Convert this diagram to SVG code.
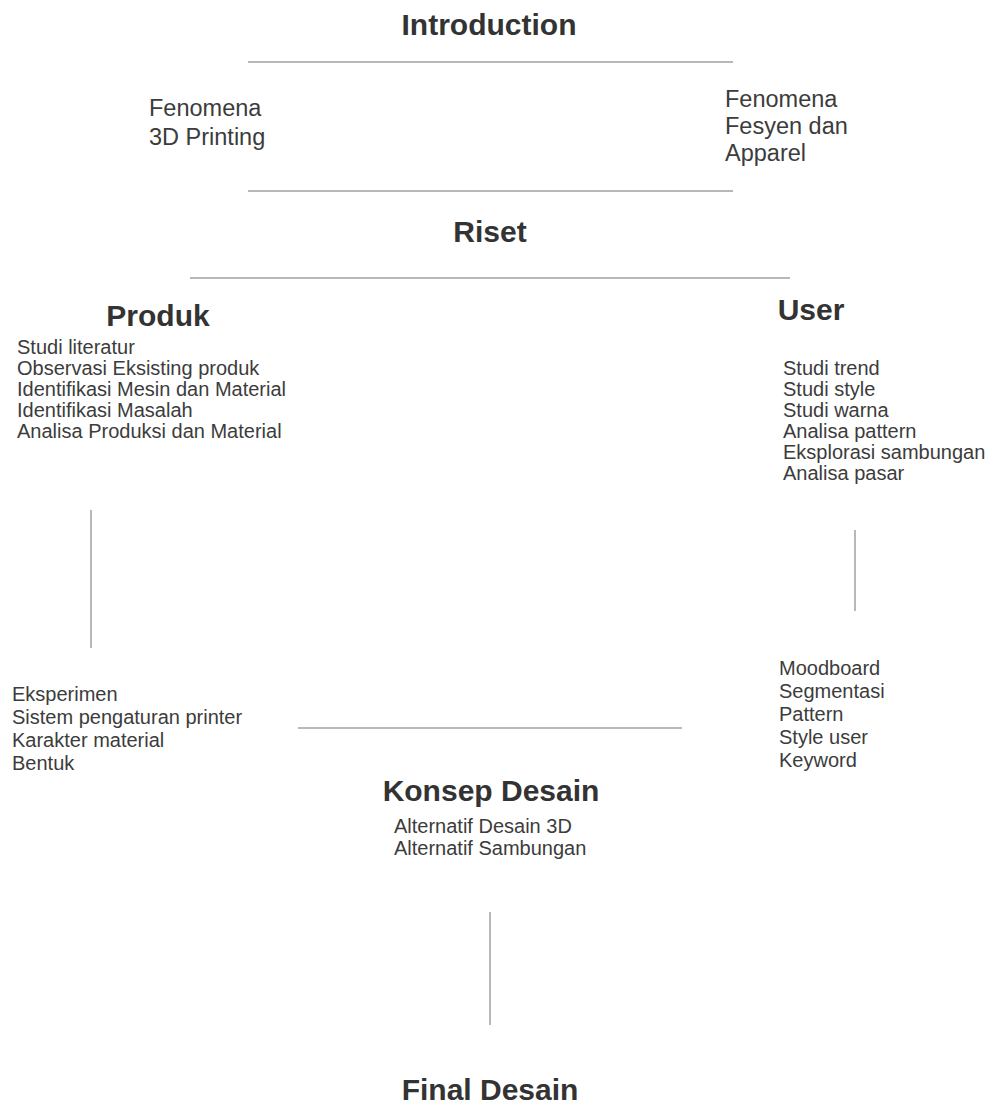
<svg xmlns="http://www.w3.org/2000/svg" width="996" height="1108" viewBox="0 0 996 1108">
<style>
.h{font-family:"Liberation Sans",Arial,sans-serif;font-weight:bold;font-size:30px;fill:#333;text-anchor:middle}
.t{font-family:"Liberation Sans",Arial,sans-serif;font-size:20px;fill:#3c3c3c}
.f{font-family:"Liberation Sans",Arial,sans-serif;font-size:23.5px;fill:#3c3c3c}
.c line{stroke:#a0a0a0;stroke-width:1.5}
</style>
<rect width="996" height="1108" fill="#fff"/>
<g class="c" id="connectors">
<line x1="248" y1="62" x2="733" y2="62"/>
<line x1="248" y1="191" x2="733" y2="191"/>
<line x1="190" y1="278" x2="790" y2="278"/>
<line x1="91" y1="510" x2="91" y2="648"/>
<line x1="855" y1="530" x2="855" y2="611"/>
<line x1="298" y1="728" x2="682" y2="728"/>
<line x1="490" y1="912" x2="490" y2="1025"/>
</g>
<g id="introduction"><text class="h" x="489" y="35">Introduction</text></g>
<g id="fenomena-3d">
<text class="f" x="149" y="116">Fenomena</text>
<text class="f" x="149" y="145">3D Printing</text>
</g>
<g id="fenomena-fesyen">
<text class="f" x="725" y="107">Fenomena</text>
<text class="f" x="725" y="134">Fesyen dan</text>
<text class="f" x="725" y="161">Apparel</text>
</g>
<g id="riset"><text class="h" x="490" y="242">Riset</text></g>
<g id="produk"><text class="h" x="158" y="326">Produk</text></g>
<g id="user"><text class="h" x="811" y="320">User</text></g>
<g id="produk-list">
<text class="t" x="17" y="354">Studi literatur</text>
<text class="t" x="17" y="375">Observasi Eksisting produk</text>
<text class="t" x="17" y="396">Identifikasi Mesin dan Material</text>
<text class="t" x="17" y="417">Identifikasi Masalah</text>
<text class="t" x="17" y="438">Analisa Produksi dan Material</text>
</g>
<g id="user-list">
<text class="t" x="783" y="375">Studi trend</text>
<text class="t" x="783" y="396">Studi style</text>
<text class="t" x="783" y="417">Studi warna</text>
<text class="t" x="783" y="438">Analisa pattern</text>
<text class="t" x="783" y="459">Eksplorasi sambungan</text>
<text class="t" x="783" y="480">Analisa pasar</text>
</g>
<g id="eksperimen">
<text class="t" x="12" y="701">Eksperimen</text>
<text class="t" x="12" y="724">Sistem pengaturan printer</text>
<text class="t" x="12" y="747">Karakter material</text>
<text class="t" x="12" y="770">Bentuk</text>
</g>
<g id="moodboard">
<text class="t" x="779" y="675">Moodboard</text>
<text class="t" x="779" y="698">Segmentasi</text>
<text class="t" x="779" y="721">Pattern</text>
<text class="t" x="779" y="744">Style user</text>
<text class="t" x="779" y="767">Keyword</text>
</g>
<g id="konsep-desain"><text class="h" x="491" y="801">Konsep Desain</text></g>
<g id="konsep-list">
<text class="t" x="394" y="833">Alternatif Desain 3D</text>
<text class="t" x="394" y="855">Alternatif Sambungan</text>
</g>
<g id="final-desain"><text class="h" x="490" y="1100">Final Desain</text></g>
</svg>
